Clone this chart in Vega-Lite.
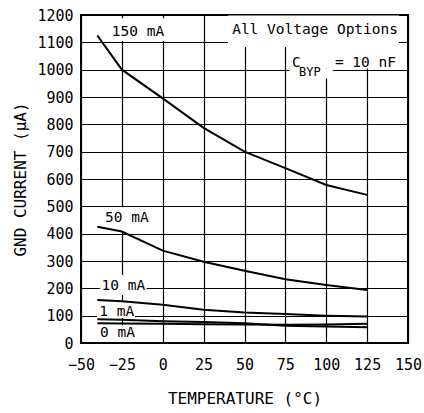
{
  "$schema": "https://vega.github.io/schema/vega-lite/v6.json",
  "width": 327,
  "height": 328,
  "autosize": "none",
  "padding": {"left": 81, "top": 15, "right": 16, "bottom": 70},
  "config": {
    "font": "DejaVu Sans Mono",
    "view": {"stroke": "black", "strokeWidth": 2},
    "axis": {
      "grid": true, "gridColor": "black", "gridOpacity": 1, "gridWidth": 1.2,
      "domain": false, "ticks": false,
      "labelFontSize": 15, "labelColor": "black", "labelOverlap": false, "labelFlush": false,
      "labelFont": "DejaVu Sans Mono", "titleFont": "DejaVu Sans Mono",
      "titleFontSize": 16, "titleFontWeight": "normal", "titleColor": "black"
    }
  },
  "encoding": {
    "x": {
      "field": "temp", "type": "quantitative",
      "scale": {"domain": [-50, 150], "nice": false, "zero": false},
      "axis": {
        "values": [-50, -25, 0, 25, 50, 75, 100, 125, 150], "format": "d",
        "labelPadding": 14, "title": "TEMPERATURE (°C)", "titlePadding": 18
      }
    },
    "y": {
      "field": "current", "type": "quantitative",
      "scale": {"domain": [0, 1200], "nice": false},
      "axis": {
        "values": [0, 100, 200, 300, 400, 500, 600, 700, 800, 900, 1000, 1100, 1200], "format": "d",
        "labelPadding": 8, "title": "GND CURRENT (μA)",
        "titleX": -61, "titleY": 164, "titleAngle": -90,
        "titleAlign": "center", "titleBaseline": "middle"
      }
    }
  },
  "layer": [
    {
      "data": {"values": [
        {"temp": -32.3, "temp2": 2.0, "current": 1188, "current2": 1105},
        {"temp": 39.9, "temp2": 144.5, "current": 1198, "current2": 1083},
        {"temp": 77.5, "temp2": 147.5, "current": 1083, "current2": 1004},
        {"temp": 77.5, "temp2": 104, "current": 1004, "current2": 968},
        {"temp": -36.5, "temp2": -9, "current": 497, "current2": 410},
        {"temp": -38.4, "temp2": -9.9, "current": 249, "current2": 176},
        {"temp": -40.2, "temp2": -17, "current": 150, "current2": 91.5},
        {"temp": -40.2, "temp2": -15.1, "current": 66, "current2": 4}
      ]},
      "mark": {"type": "rect", "fill": "white", "stroke": null},
      "encoding": {
        "x2": {"field": "temp2"},
        "y2": {"field": "current2"}
      }
    },
    {
      "data": {"values": [
        {"load": "150 mA", "temp": -40, "current": 1125},
        {"load": "150 mA", "temp": -25, "current": 1000},
        {"load": "150 mA", "temp": 0, "current": 895},
        {"load": "150 mA", "temp": 25, "current": 787},
        {"load": "150 mA", "temp": 50, "current": 700},
        {"load": "150 mA", "temp": 75, "current": 640},
        {"load": "150 mA", "temp": 100, "current": 578},
        {"load": "150 mA", "temp": 125, "current": 542},
        {"load": "50 mA", "temp": -40, "current": 425},
        {"load": "50 mA", "temp": -25, "current": 408},
        {"load": "50 mA", "temp": 0, "current": 338},
        {"load": "50 mA", "temp": 25, "current": 297},
        {"load": "50 mA", "temp": 50, "current": 264},
        {"load": "50 mA", "temp": 75, "current": 233},
        {"load": "50 mA", "temp": 100, "current": 212},
        {"load": "50 mA", "temp": 125, "current": 194},
        {"load": "10 mA", "temp": -40, "current": 157},
        {"load": "10 mA", "temp": -25, "current": 153},
        {"load": "10 mA", "temp": 0, "current": 140},
        {"load": "10 mA", "temp": 25, "current": 122},
        {"load": "10 mA", "temp": 50, "current": 112},
        {"load": "10 mA", "temp": 75, "current": 106},
        {"load": "10 mA", "temp": 100, "current": 100},
        {"load": "10 mA", "temp": 125, "current": 97},
        {"load": "1 mA", "temp": -40, "current": 87},
        {"load": "1 mA", "temp": -25, "current": 85},
        {"load": "1 mA", "temp": 0, "current": 80},
        {"load": "1 mA", "temp": 25, "current": 77},
        {"load": "1 mA", "temp": 50, "current": 72},
        {"load": "1 mA", "temp": 75, "current": 63},
        {"load": "1 mA", "temp": 100, "current": 60},
        {"load": "1 mA", "temp": 125, "current": 58},
        {"load": "0 mA", "temp": -40, "current": 72},
        {"load": "0 mA", "temp": -25, "current": 71},
        {"load": "0 mA", "temp": 0, "current": 70},
        {"load": "0 mA", "temp": 25, "current": 69},
        {"load": "0 mA", "temp": 50, "current": 68},
        {"load": "0 mA", "temp": 75, "current": 67},
        {"load": "0 mA", "temp": 100, "current": 68},
        {"load": "0 mA", "temp": 125, "current": 70}
      ]},
      "mark": {"type": "line", "color": "black", "strokeWidth": 2},
      "encoding": {
        "detail": {"field": "load", "type": "nominal"}
      }
    },
    {
      "data": {"values": [
        {"label": "150 mA", "temp": -31.2, "current": 1138, "align": "left"},
        {"label": "All Voltage Options", "temp": 143.9, "current": 1145, "align": "right"},
        {"label": "C", "temp": 79.1, "current": 1026, "align": "left"},
        {"label": "= 10 nF", "temp": 105.3, "current": 1024, "align": "left"},
        {"label": "50 mA", "temp": -35.3, "current": 457, "align": "left"},
        {"label": "10 mA", "temp": -37.4, "current": 208, "align": "left"},
        {"label": "1 mA", "temp": -38.8, "current": 115, "align": "left"},
        {"label": "0 mA", "temp": -38.4, "current": 36, "align": "left"}
      ]},
      "mark": {"type": "text", "fontSize": 14.5, "color": "black", "baseline": "middle", "align": {"expr": "datum.align"}},
      "encoding": {
        "text": {"field": "label"}
      }
    },
    {
      "data": {"values": [
        {"label": "BYP", "temp": 83.3, "current": 993}
      ]},
      "mark": {"type": "text", "fontSize": 12, "color": "black", "baseline": "middle", "align": "left"},
      "encoding": {
        "text": {"field": "label"}
      }
    }
  ]
}
